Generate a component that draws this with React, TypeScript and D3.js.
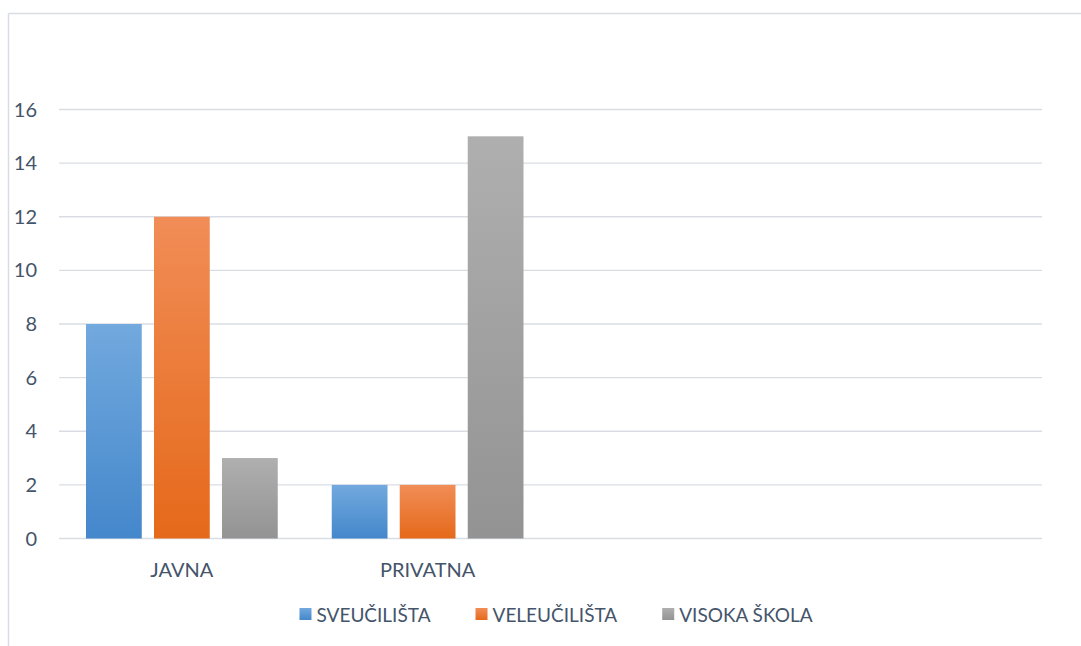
import React, { useEffect, useRef } from "react";
import * as d3 from "d3";

const categories = ["JAVNA", "PRIVATNA", "", ""];
const seriesNames = ["SVEUČILIŠTA", "VELEUČILIŠTA", "VISOKA ŠKOLA"];
const sveucilista = [8, 2, null, null];
const veleucilista = [12, 2, null, null];
const visokaSkola = [3, 15, null, null];
const yTicks = [0, 2, 4, 6, 8, 10, 12, 14, 16];

const seriesValues = [sveucilista, veleucilista, visokaSkola];
const colorsTop = ["#72a9de", "#f18d57", "#afafaf"];
const colorsBottom = ["#4487cb", "#e5691a", "#939393"];

const W = 1081;
const H = 646;
const FONT = "Lato, 'Open Sans', sans-serif";
const TEXT = "#44546A";
const GRID = "#D9DDE3";

export default function App() {
  const legendRef = useRef<SVGGElement | null>(null);

  const x = d3
    .scaleBand<number>()
    .domain(categories.map((_, i) => i))
    .range([59, 1042]);
  const y = d3.scaleLinear().domain([0, 16]).range([538.5, 109.5]);
  const inner = d3
    .scaleBand<number>()
    .domain(seriesNames.map((_, i) => i))
    .range([27, x.bandwidth() - 27])
    .paddingInner(0.18);

  useEffect(() => {
    const g = d3.select(legendRef.current);
    if (!g.node()) return;
    g.selectAll("*").remove();
    const sq = 12;
    const gapSq = 5;
    const gapItem = 45;
    const items = seriesNames.map((name, i) => {
      const t = g
        .append("text")
        .attr("font-family", FONT)
        .attr("font-size", 19)
        .attr("fill", TEXT)
        .text(name);
      const w = (t.node() as SVGTextElement).getComputedTextLength();
      return { t, w, i };
    });
    const total =
      items.reduce((s, it) => s + sq + gapSq + it.w, 0) + gapItem * (items.length - 1);
    let cx = 556 - total / 2;
    const baseY = 622;
    items.forEach((it) => {
      g.append("rect")
        .attr("x", cx)
        .attr("y", baseY - 14)
        .attr("width", sq)
        .attr("height", sq)
        .attr("fill", `url(#grad${it.i})`);
      it.t.attr("x", cx + sq + gapSq).attr("y", baseY);
      cx += sq + gapSq + it.w + gapItem;
    });
  }, []);

  return (
    <div style={{ position: "fixed", left: 0, top: 0, width: W, height: H, background: "#fff" }}>
      <svg width={W} height={H} style={{ display: "block" }}>
        <defs>
          {seriesNames.map((_, i) => (
            <linearGradient key={i} id={`grad${i}`} x1="0" y1="0" x2="0" y2="1">
              <stop offset="0%" stopColor={colorsTop[i]} />
              <stop offset="100%" stopColor={colorsBottom[i]} />
            </linearGradient>
          ))}
        </defs>
        <rect x={0} y={0} width={W} height={H} fill="#fff" />
        {/* chart frame */}
        <line x1={8.5} y1={13.5} x2={W} y2={13.5} stroke={GRID} strokeWidth={1.5} />
        <line x1={8.5} y1={13.5} x2={8.5} y2={H} stroke={GRID} strokeWidth={1.5} />
        {/* gridlines */}
        {yTicks.map((t) => (
          <line
            key={t}
            x1={59}
            x2={1042}
            y1={y(t)}
            y2={y(t)}
            stroke={GRID}
            strokeWidth={1.4}
          />
        ))}
        {/* y labels */}
        {yTicks.map((t) => (
          <text
            key={t}
            x={37}
            y={y(t)}
            dy="0.35em"
            textAnchor="end"
            fontFamily={FONT}
            fontSize={20}
            fill={TEXT}
          >
            {t}
          </text>
        ))}
        {/* bars */}
        {categories.map((c, ci) =>
          seriesValues.map((vals, si) => {
            const v = vals[ci];
            if (v == null) return null;
            return (
              <rect
                key={`${ci}-${si}`}
                x={(x(ci) as number) + (inner(si) as number)}
                y={y(v)}
                width={inner.bandwidth()}
                height={y(0) - y(v)}
                fill={`url(#grad${si})`}
              />
            );
          })
        )}
        {/* x labels */}
        {categories.map((c, ci) =>
          c ? (
            <text
              key={ci}
              x={(x(ci) as number) + x.bandwidth() / 2}
              y={577}
              textAnchor="middle"
              fontFamily={FONT}
              fontSize={20}
              fill={TEXT}
            >
              {c}
            </text>
          ) : null
        )}
        <g ref={legendRef} />
      </svg>
    </div>
  );
}
